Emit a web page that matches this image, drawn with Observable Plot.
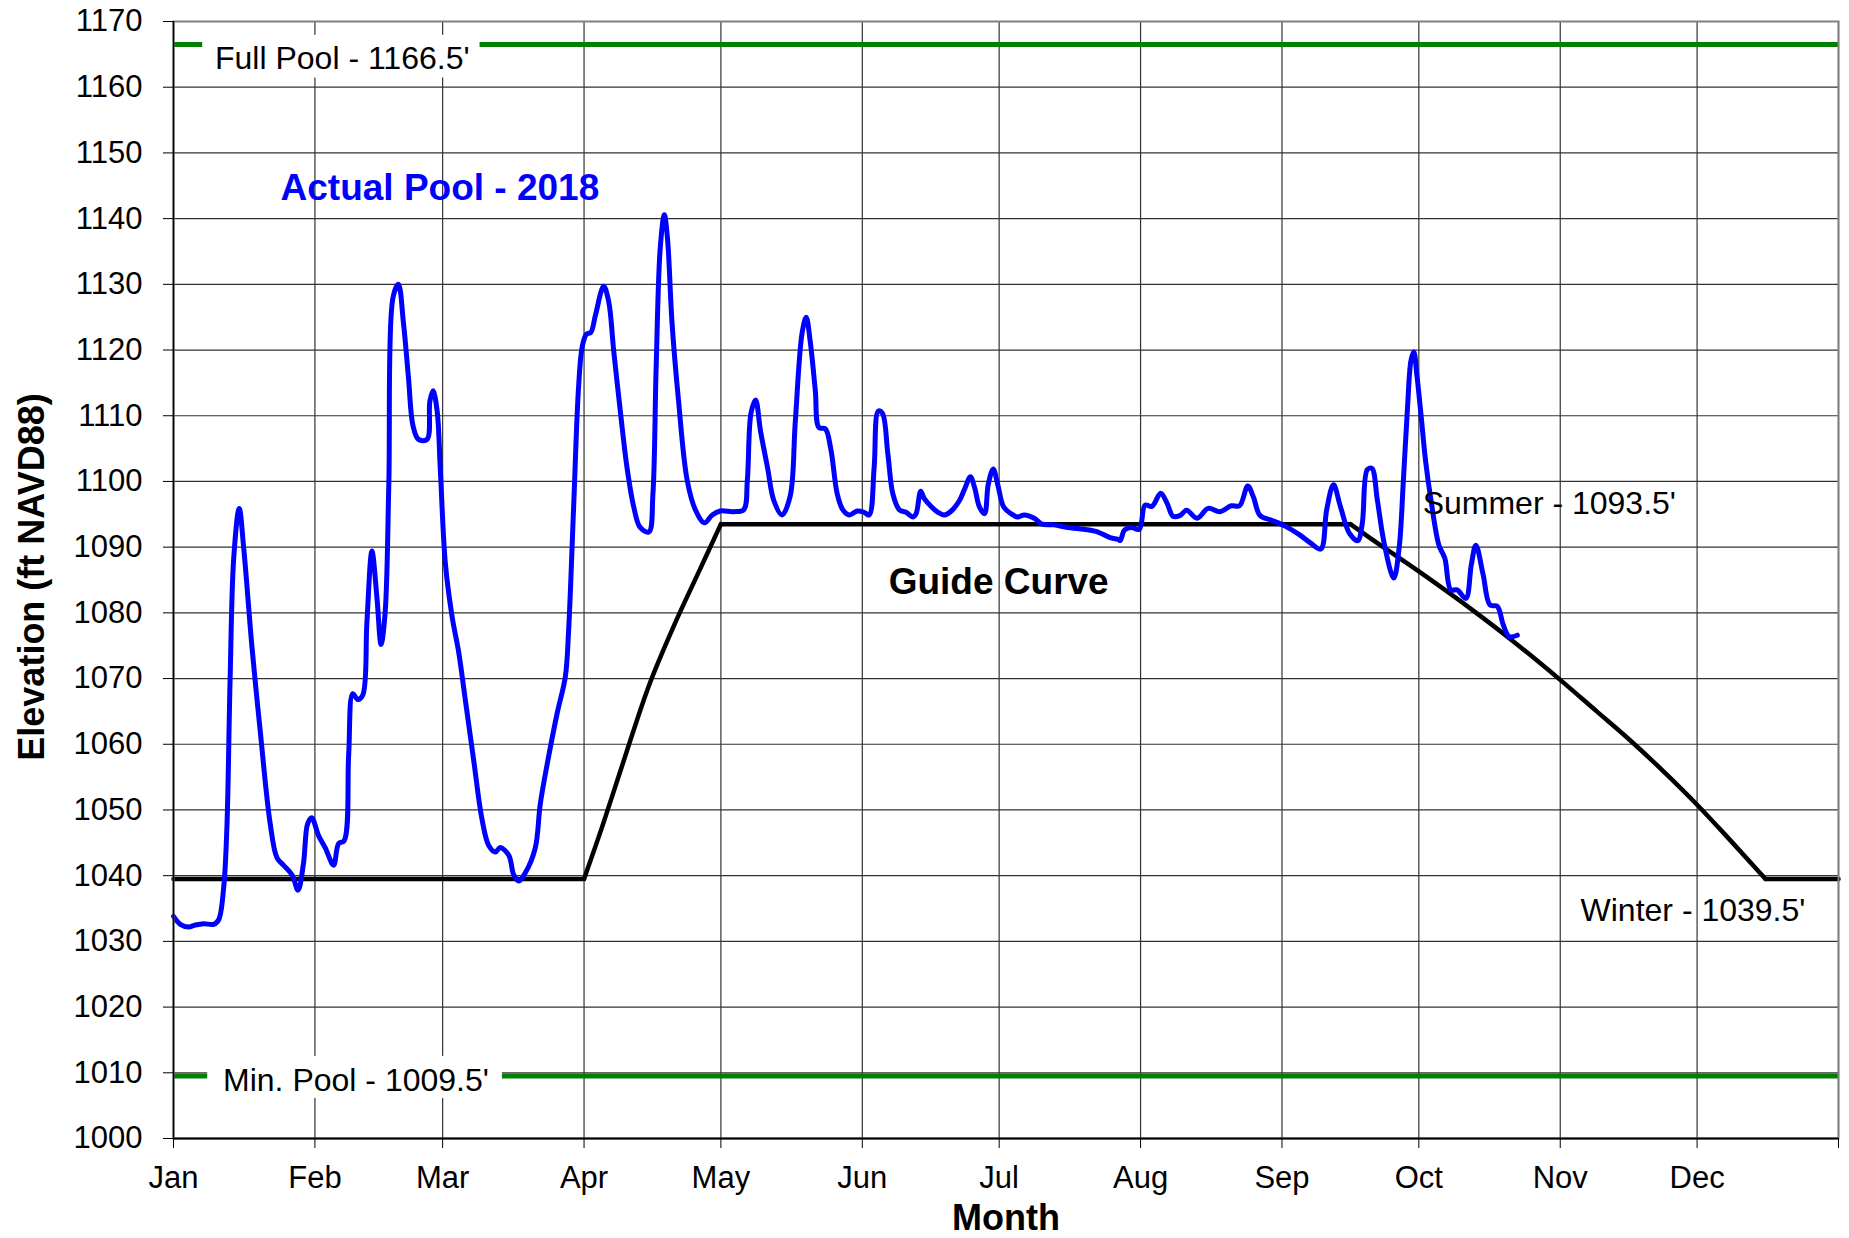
<!DOCTYPE html>
<html>
<head>
<meta charset="utf-8">
<script src="https://cdn.jsdelivr.net/npm/d3@7"></script>
<script src="https://cdn.jsdelivr.net/npm/@observablehq/plot@0.6"></script>
<style>
html, body { margin: 0; padding: 0; background: #ffffff; }
#chart { width: 1849px; height: 1238px; }
</style>
</head>
<body>
<div id="chart"></div>
<script>
// ---- Axis ticks (day of year for month starts; last = end of year) ----
const monthStarts = [0, 31, 59, 90, 120, 151, 181, 212, 243, 273, 304, 334, 365];
const monthLabels = ["Jan", "Feb", "Mar", "Apr", "May", "Jun", "Jul", "Aug", "Sep", "Oct", "Nov", "Dec", ""];
const yTicks = [1000, 1010, 1020, 1030, 1040, 1050, 1060, 1070, 1080, 1090, 1100, 1110, 1120, 1130, 1140, 1150, 1160, 1170];

// ---- Actual Pool - 2018 (day of year, elevation ft) ----
const actualDay = [0, 1.5, 3.3, 4.8, 6.6, 8.8, 9.9, 11, 11.7, 12.4, 13.2, 14.4, 15.4, 17.2, 19, 21.2, 22.7, 24.1, 26, 27.3,
  28.5, 29.4, 30.3, 31.8, 33.3, 35.1, 36.2, 37.4, 38.4, 39.3, 40.4, 41.5, 42.4, 43.5, 44.6, 45.5, 46.4, 47.2, 48.1, 49.3,
  50.4, 51.5, 52.5, 53.7, 55.6, 56.2, 56.9, 57.8, 58.5, 59.6, 61.1, 62.5, 64, 65.8, 67.6, 69.1, 70.6, 71.6, 73.5, 74.6,
  75.7, 77.1, 79.3, 80.4, 81.9, 84.1, 85.9, 86.6, 87.7, 88.8, 89.6, 90.5, 91.5, 92.5, 94.3, 95.4, 96.5, 98, 99.4, 100.9,
  102.3, 104.2, 105.1, 105.8, 106.7, 107.6, 108.3, 109.3, 110.7, 112.6, 114.4, 116.4, 118.1, 119.9, 122.8, 125, 125.8, 126.6, 127.6, 128.7,
  130.2, 131.6, 133.4, 135.2, 136.3, 137.8, 138.7, 139.6, 140.7, 141.5, 142.9, 144.1, 145.5, 146.7, 148.1, 149.9, 151.4, 152.5, 153.6, 154.5,
  155.4, 156.6, 157.7, 159.1, 160.6, 162.1, 162.8, 163.8, 164.6, 166.1, 167.6, 169, 170.5, 172.3, 173.4, 174.7, 175.6, 176.7, 177.8, 178.6,
  179.7, 180.7, 182, 183.6, 185, 186.5, 188.7, 190.4, 193, 196, 198.6, 202.2, 205.5, 207, 207.5, 208.5, 210, 211.7, 213, 214.5,
  216.4, 217.8, 219.1, 220.6, 222.1, 224.4, 226.8, 229.4, 231.9, 233.7, 235.5, 236.7, 238.2, 240.7, 243.7, 246.8, 249.3, 251.5, 252.8, 254.3,
  255.8, 257.8, 259.6, 260.6, 261.7, 262.7, 263.9, 265.4, 267.5, 268.7, 269.6, 270.5, 271.3, 271.9, 272.6, 273.5, 274.5, 275.7, 277.4, 278.7,
  280, 281.4, 283.3, 284.5, 285.5, 287.1, 288.6, 290.2, 291.5, 292.8, 294.6];
const actualElev = [1033.8, 1032.6, 1032.2, 1032.5, 1032.7, 1032.6, 1033.3, 1038.2, 1047.2, 1069.6, 1088.3, 1095.9, 1089.8, 1074.8, 1062.1, 1047.9, 1042.7, 1041.6, 1040.1, 1037.8,
  1041.9, 1047.9, 1048.8, 1046.1, 1044.2, 1041.6, 1044.9, 1045.3, 1058.4, 1067.7, 1066.8, 1067.5, 1078.6, 1089.4, 1082.3, 1075.2, 1080.1, 1099.5, 1127.9, 1130,
  1124.2, 1115.9, 1108.5, 1106.4, 1106.4, 1112.2, 1113.8, 1110.7, 1101.7, 1087.5, 1079.3, 1074.1, 1066.6, 1057.6, 1048.7, 1044.6, 1043.6, 1044.3, 1043.1, 1040.1,
  1039.2, 1040.4, 1044.2, 1050.9, 1056.9, 1064.7, 1070.3, 1077.1, 1095.8, 1114.4, 1120.5, 1122.4, 1122.7, 1125.3, 1129.7, 1127.4, 1119.9, 1110.4, 1102.2, 1096.1,
  1093, 1092.3, 1098.1, 1117.2, 1135.5, 1140.6, 1136.9, 1124, 1112.4, 1100.2, 1095.7, 1093.7, 1094.9, 1095.5, 1095.4, 1095.7, 1100.2, 1110.4, 1112.4, 1107.6,
  1102.2, 1097.1, 1094.9, 1097.8, 1109, 1122.6, 1125, 1121.2, 1113.8, 1108.2, 1108, 1104.9, 1098.1, 1095.7, 1094.9, 1095.5, 1095.3, 1094.9, 1102.2, 1110.7,
  1110.4, 1104.2, 1098.1, 1095.7, 1095.3, 1094.6, 1095.1, 1098.5, 1097.4, 1096.2, 1095.3, 1094.9, 1095.5, 1097.1, 1098.8, 1100.7, 1099.1, 1096.1, 1095.1, 1099.5,
  1101.9, 1099.5, 1096.1, 1095.1, 1094.6, 1094.9, 1094.4, 1093.5, 1093.4, 1093, 1092.8, 1092.4, 1091.4, 1091.2, 1091, 1092.6, 1093, 1092.7, 1096.4, 1096.2,
  1098.2, 1096.7, 1094.7, 1094.8, 1095.6, 1094.4, 1095.9, 1095.4, 1096.3, 1096.3, 1099.3, 1097.7, 1094.8, 1094.1, 1093.2, 1091.9, 1090.6, 1089.7, 1095.7, 1099.5,
  1096.2, 1092.1, 1091, 1093.6, 1101.8, 1102, 1097.2, 1090.6, 1085.3, 1090, 1100, 1111, 1118.5, 1119.7, 1116, 1110, 1103, 1097, 1090.3, 1088.3,
  1083.5, 1083.5, 1082.2, 1087.3, 1090.3, 1085.8, 1081.2, 1081, 1078.2, 1076.4, 1076.6];

// ---- Guide Curve ----
const guideDay = [0, 90, 94, 98, 104, 110, 115, 120, 258, 262.5, 273, 285, 294, 304, 312, 319, 326, 334, 341, 349, 365];
const guideElev = [1039.5, 1039.5, 1047.5, 1056, 1068.5, 1078.5, 1086, 1093.5, 1093.5, 1091.3, 1086.3, 1080.3, 1075.5, 1069.8, 1065.0, 1060.8, 1056.3, 1050.8, 1045.6, 1039.5, 1039.5];
// days where the guide curve changes between flat and sloped parts
const guideBreaks = [90, 120, 258, 349];

// ---- Reference pools ----
const poolLevels = [1166.5, 1009.5];

// ---- Label boxes (white background behind pool labels) ----
const boxX1 = [6.4, 7.5];
const boxX2 = [67.2, 72.1];
const boxY1 = [1161.4, 1006.1];
const boxY2 = [1167.9, 1012.5];

// ---- Annotations (text, day, elevation of baseline) ----
const plainText = ["Full Pool - 1166.5'", "Min. Pool - 1009.5'", "Summer - 1093.5'", "Winter - 1039.5'"];
const plainDay = [37.0, 40.0, 301.6, 333.1];
const plainElev = [1162.7, 1007.2, 1095.1, 1033.1];
const guideLabel = ["Guide Curve"];
const guideLabelDay = [180.9];
const guideLabelElev = [1082.8];
const actualLabel = ["Actual Pool - 2018"];
const actualLabelDay = [58.4];
const actualLabelElev = [1142.8];

const actual = actualDay.map((d, i) => ({day: d, elev: actualElev[i]}));
const guide = guideDay.map((d, i) => ({day: d, elev: guideElev[i]}));
const boxes = boxX1.map((d, i) => ({x1: d, x2: boxX2[i], y1: boxY1[i], y2: boxY2[i]}));
const plainAnno = plainText.map((t, i) => ({text: t, day: plainDay[i], elev: plainElev[i]}));
const guideAnno = guideLabel.map((t, i) => ({text: t, day: guideLabelDay[i], elev: guideLabelElev[i]}));
const actualAnno = actualLabel.map((t, i) => ({text: t, day: actualLabelDay[i], elev: actualLabelElev[i]}));
const labelByDay = new Map(monthStarts.map((d, i) => [d, monthLabels[i]]));

// split guide curve into pieces: flat (linear) and sloped (smooth)
const [b0, b1, b2, b3] = guideBreaks;
const guidePieces = [
  {data: guide.filter(d => d.day <= b0), curve: "linear"},
  {data: guide.filter(d => d.day >= b0 && d.day <= b1), curve: "monotone-x"},
  {data: guide.filter(d => d.day >= b1 && d.day <= b2), curve: "linear"},
  {data: guide.filter(d => d.day >= b2 && d.day <= b3), curve: "monotone-x"},
  {data: guide.filter(d => d.day >= b3), curve: "linear"}
];

const gridStyle = {stroke: "#333333", strokeOpacity: 1, strokeWidth: 1.2};

const chart = Plot.plot({
  width: 1849,
  height: 1238,
  marginLeft: 173,
  marginRight: 11,
  marginTop: 21,
  marginBottom: 100,
  style: {fontFamily: "'Liberation Sans', Arial, sans-serif", fontSize: "31px", color: "#000000", background: "#ffffff"},
  x: {domain: [0, 365], label: null},
  y: {domain: [1000, 1170], label: null},
  marks: [
    Plot.gridX(monthStarts, gridStyle),
    Plot.gridY(yTicks, gridStyle),
    Plot.ruleY(poolLevels, {stroke: "#008000", strokeWidth: 5}),
    Plot.rect(boxes, {x1: "x1", x2: "x2", y1: "y1", y2: "y2", fill: "#ffffff"}),
    ...guidePieces.map(p => Plot.line(p.data, {x: "day", y: "elev", stroke: "#000000", strokeWidth: 4.5, curve: p.curve})),
    Plot.line(actual, {x: "day", y: "elev", stroke: "#0000ff", strokeWidth: 5, curve: "catmull-rom"}),
    Plot.text(plainAnno, {x: "day", y: "elev", text: "text", fill: "#000000", fontSize: 32, lineAnchor: "bottom", textAnchor: "middle"}),
    Plot.text(guideAnno, {x: "day", y: "elev", text: "text", fill: "#000000", fontSize: 37, fontWeight: "bold", lineAnchor: "bottom", textAnchor: "middle"}),
    Plot.text(actualAnno, {x: "day", y: "elev", text: "text", fill: "#0000ff", fontSize: 37, fontWeight: "bold", lineAnchor: "bottom", textAnchor: "middle"}),
    Plot.frame({stroke: "#808080", strokeWidth: 2}),
    Plot.ruleX([0], {stroke: "#000000", strokeWidth: 1.5}),
    Plot.ruleY([1000], {stroke: "#000000", strokeWidth: 2}),
    Plot.axisX(monthStarts, {tickFormat: d => labelByDay.get(d), tickSize: 10, tickPadding: 17, fontSize: 31, label: null}),
    Plot.axisY(yTicks, {tickFormat: d => String(d), tickSize: 10, tickPadding: 21, fontSize: 31, label: null}),
    Plot.text(["Month"], {frameAnchor: "bottom", textAnchor: "middle", dy: 91, lineAnchor: "bottom", fontWeight: "bold", fontSize: 36}),
    Plot.text(["Elevation (ft NAVD88)"], {frameAnchor: "left", textAnchor: "middle", rotate: -90, dx: -129.5, dy: -3, lineAnchor: "bottom", fontWeight: "bold", fontSize: 36})
  ]
});
document.getElementById("chart").appendChild(chart);
</script>
</body>
</html>
